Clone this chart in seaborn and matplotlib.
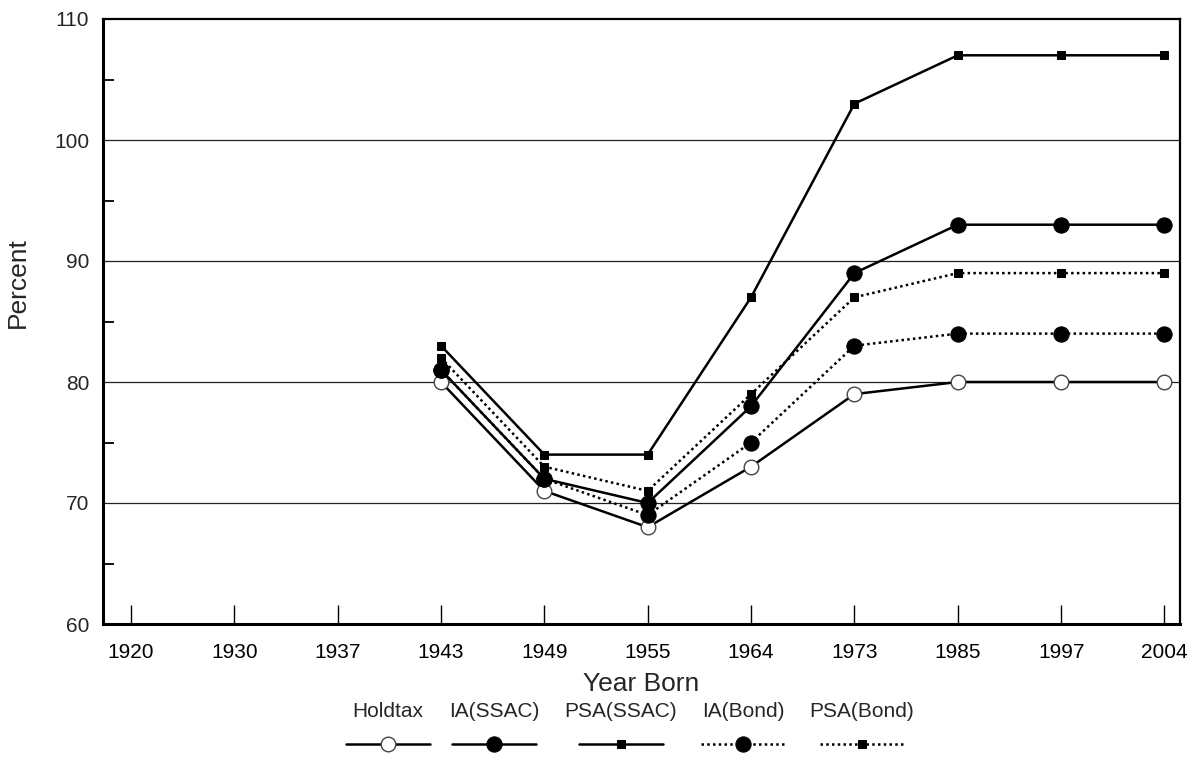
import numpy as np
import pandas as pd
import matplotlib
matplotlib.use("Agg")
import matplotlib.pyplot as plt
import seaborn as sns

# categories on the x axis (equally spaced)
years = ["1920", "1930", "1937", "1943", "1949", "1955", "1964", "1973", "1985", "1997", "2004"]
# series start at 1943
data_years = ["1943", "1949", "1955", "1964", "1973", "1985", "1997", "2004"]

holdtax = [80, 71, 68, 73, 79, 80, 80, 80]
ia_ssac = [81, 72, 70, 78, 89, 93, 93, 93]
psa_ssac = [83, 74, 74, 87, 103, 107, 107, 107]
ia_bond = [81, 72, 69, 75, 83, 84, 84, 84]
psa_bond = [82, 73, 71, 79, 87, 89, 89, 89]

series_names = ["Holdtax", "IA(SSAC)", "PSA(SSAC)", "IA(Bond)", "PSA(Bond)"]
series_vals = [holdtax, ia_ssac, psa_ssac, ia_bond, psa_bond]

sns.set_style("white")
plt.rcParams["font.family"] = ["Liberation Sans", "DejaVu Sans"]

# marker / line style per series
dot = (0, (1, 1.3))
styles = {
    "Holdtax": dict(marker="o", markersize=10.5, mfc="white", mec="#444444", mew=1.0, linestyle="-"),
    "IA(SSAC)": dict(marker="o", markersize=11, mfc="black", mec="black", linestyle="-"),
    "PSA(SSAC)": dict(marker="s", markersize=5.5, mfc="black", mec="black", linestyle="-"),
    "IA(Bond)": dict(marker="o", markersize=11, mfc="black", mec="black", linestyle=dot),
    "PSA(Bond)": dict(marker="s", markersize=5.5, mfc="black", mec="black", linestyle=dot),
}

rows = []
for name, vals in zip(series_names, series_vals):
    for yr, v in zip(data_years, vals):
        rows.append({"series": name, "pos": years.index(yr), "pct": v})
df = pd.DataFrame(rows)

fig = plt.figure(figsize=(11.94, 7.76), dpi=100)
ax = fig.add_axes([103 / 1194, 1 - 624 / 776, 1077 / 1194, 605 / 776])

handles = []
for name in series_names:
    sub = df[df["series"] == name]
    sns.lineplot(data=sub, x="pos", y="pct", ax=ax, color="black", linewidth=1.8,
                 **styles[name])
    handles.append(ax.lines[-1])

ax.set_xlim(-0.27, 10.15)
ax.set_ylim(60, 110)
ax.set_xticks(range(len(years)))
ax.set_xticklabels(years)
ax.set_yticks(range(60, 111, 10))
ax.set_yticks(range(65, 110, 10), minor=True)
ax.tick_params(axis="x", bottom=True, direction="in", length=14, width=1.0, labelsize=15, pad=14, colors="black")
ax.tick_params(axis="y", which="major", left=True, direction="in", length=0, labelsize=15, pad=10)
ax.tick_params(axis="y", which="minor", left=True, direction="in", length=8, width=1.3, colors="black")

for v in range(70, 110, 10):
    ax.axhline(v, color="#222222", linewidth=0.9, zorder=0)

for side in ["left", "bottom"]:
    ax.spines[side].set_linewidth(2.2)
for side in ["top", "right"]:
    ax.spines[side].set_linewidth(1.6)
for sp in ax.spines.values():
    sp.set_color("black")

ax.set_xlabel("Year Born", fontsize=19, labelpad=7)
ax.set_ylabel("Percent", fontsize=19)
ax.yaxis.set_label_coords(-0.068, 0.565)

if ax.get_legend() is not None:
    ax.get_legend().remove()

# legend: label on top, sample line below
centers = [388, 494, 621, 743, 862]
for name, h, cx in zip(series_names, handles, centers):
    leg = fig.legend(handles=[h], labels=[""], title=name, loc="center",
                     bbox_to_anchor=(cx / 1194, 1 - 729 / 776), frameon=False,
                     handlelength=4.0, handletextpad=0, borderpad=0,
                     title_fontsize=15, fontsize=15)
    leg._legend_box.sep = 11

fig.savefig("out.png", dpi=100)
